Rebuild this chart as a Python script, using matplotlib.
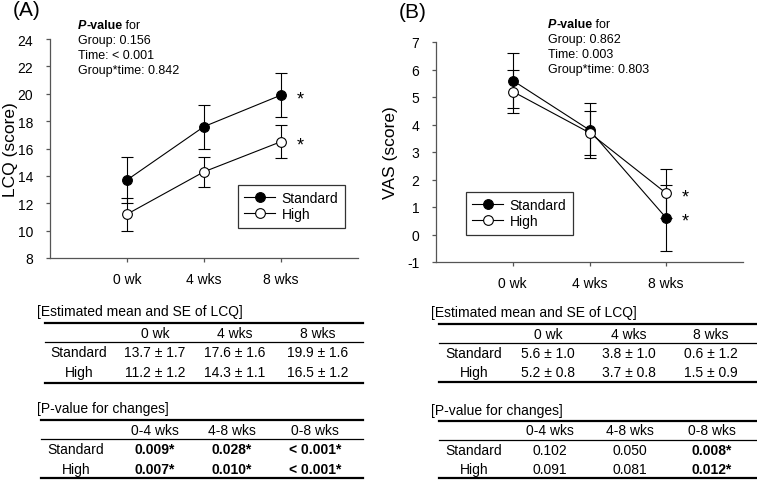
import matplotlib
matplotlib.use("Agg")
import matplotlib.pyplot as plt
from matplotlib.lines import Line2D

plt.rcParams["font.family"] = ["Liberation Sans", "DejaVu Sans"]
plt.rcParams["axes.unicode_minus"] = False

W, H = 757, 481

weeks = ["0 wk", "4 wks", "8 wks"]
changes = ["0-4 wks", "4-8 wks", "0-8 wks"]
groups = ["Standard", "High"]

# LCQ (panel A)
lcq_std = [13.7, 17.6, 19.9]
lcq_std_se = [1.7, 1.6, 1.6]
lcq_high = [11.2, 14.3, 16.5]
lcq_high_se = [1.2, 1.1, 1.2]
lcq_p_std = ["0.009*", "0.028*", "< 0.001*"]
lcq_p_high = ["0.007*", "0.010*", "< 0.001*"]
lcq_overall = ["0.156", "< 0.001", "0.842"]

# VAS (panel B)
vas_std = [5.6, 3.8, 0.6]
vas_std_se = [1.0, 1.0, 1.2]
vas_high = [5.2, 3.7, 1.5]
vas_high_se = [0.8, 0.8, 0.9]
vas_p_std = ["0.102", "0.050", "0.008*"]
vas_p_high = ["0.091", "0.081", "0.012*"]
vas_overall = ["0.862", "0.003", "0.803"]

SPINE = "#555555"


def fx(px):
    return px / W


def fy(py):
    return 1 - py / H


def hline(fig, x0, x1, y, lw):
    fig.add_artist(Line2D([fx(x0), fx(x1)], [fy(y), fy(y)], lw=lw, color="black",
                          transform=fig.transFigure))


def make_axes(fig, left, right, top, bottom):
    ax = fig.add_axes([fx(left), fy(bottom), (right - left) / W, (bottom - top) / H])
    for s in ["top", "right"]:
        ax.spines[s].set_visible(False)
    for s in ["left", "bottom"]:
        ax.spines[s].set_color(SPINE)
        ax.spines[s].set_linewidth(0.9)
    ax.tick_params(axis="both", colors=SPINE, labelcolor="black", length=3, width=0.9,
                   labelsize=10)
    ax.tick_params(axis="y", pad=9)
    ax.tick_params(axis="x", pad=7)
    return ax


def plot_panel(ax, std, std_se, high, high_se, labels_star):
    x = list(range(len(weeks)))
    ax.errorbar(x, std, yerr=std_se, color="black", lw=0.8, elinewidth=0.8,
                capsize=4.5, capthick=0.8, marker="o", ms=7, mfc="black",
                mec="black", mew=0.8, zorder=3)
    ax.errorbar(x, high, yerr=high_se, color="black", lw=0.8, elinewidth=0.8,
                capsize=4.5, capthick=0.8, marker="o", ms=7, mfc="white",
                mec="black", mew=0.8, zorder=3)
    for y in labels_star:
        ax.annotate("*", xy=(x[-1], y), xytext=(14, -2.5), textcoords="offset points",
                    ha="center", va="center", fontsize=13)
    ax.set_xlim(-1, 3)
    ax.set_xticks(x)
    ax.set_xticklabels(weeks)


def add_legend(ax, fig, left, top):
    handles = [
        Line2D([], [], color="black", lw=0.8, marker="o", ms=7, mfc="black", mec="black", mew=0.8),
        Line2D([], [], color="black", lw=0.8, marker="o", ms=7, mfc="white", mec="black", mew=0.8),
    ]
    leg = ax.legend(handles, groups, loc="upper left", bbox_to_anchor=(fx(left), fy(top)),
                    bbox_transform=fig.transFigure, borderaxespad=0, frameon=True,
                    fancybox=False, edgecolor="black", fontsize=10, handlelength=2.2,
                    handletextpad=0.5, labelspacing=0.15, borderpad=0.45, numpoints=1)
    leg.get_frame().set_linewidth(0.9)


def pvalue_block(fig, ax, left, top_y, overall):
    t = fig.text(fx(left), fy(top_y), "P", fontsize=9, fontweight="bold",
                 fontstyle="italic", va="center")
    a = ax.annotate("-value", xy=(1, 0), xycoords=t, va="bottom", ha="left",
                    fontsize=9, fontweight="bold", annotation_clip=False)
    ax.annotate(" for", xy=(1, 0), xycoords=a, va="bottom", ha="left",
                fontsize=9, annotation_clip=False)
    names = ["Group", "Time", "Group*time"]
    for i, (n, v) in enumerate(zip(names, overall)):
        fig.text(fx(left), fy(top_y + 15 * (i + 1)), f"{n}: {v}", fontsize=9, va="center")


def table(fig, title, title_x, title_y, x0, x1, rules, header_y, rows_y, label_x, col_x,
          header, rows):
    fig.text(fx(title_x), fy(title_y), title, fontsize=10, va="center")
    hline(fig, x0, x1, rules[0], 1.6)
    hline(fig, x0, x1, rules[1], 0.9)
    hline(fig, x0, x1, rules[2], 1.6)
    for cx, h in zip(col_x, header):
        fig.text(fx(cx), fy(header_y), h, fontsize=10, ha="center", va="center")
    for ry, (name, cells) in zip(rows_y, rows):
        fig.text(fx(label_x), fy(ry), name, fontsize=10, ha="center", va="center")
        for cx, c in zip(col_x, cells):
            fig.text(fx(cx), fy(ry), c, fontsize=10, ha="center", va="center",
                     fontweight="bold" if c.endswith("*") else "normal")


def est_cells(m, s):
    return [f"{a:.1f} \u00b1 {b:.1f}" for a, b in zip(m, s)]


fig = plt.figure(figsize=(W / 100, H / 100), dpi=100)

# ---- panel A
axA = make_axes(fig, 50, 358, 40, 259)
plot_panel(axA, lcq_std, lcq_std_se, lcq_high, lcq_high_se, [lcq_std[-1], lcq_high[-1]])
axA.set_ylim(8, 24)
axA.set_yticks(range(8, 25, 2))
axA.set_ylabel("LCQ (score)", fontsize=12.5, va="center")
axA.yaxis.set_label_coords(-0.127, 0.5)
add_legend(axA, fig, 238, 186)

# ---- panel B
axB = make_axes(fig, 436, 743, 43, 263)
plot_panel(axB, vas_std, vas_std_se, vas_high, vas_high_se, [vas_std[-1], vas_high[-1]])
axB.set_ylim(-1, 7)
axB.set_yticks(range(-1, 8))
axB.set_ylabel("VAS (score)", fontsize=12.5, va="center")
axB.yaxis.set_label_coords(-0.147, 0.5)
add_legend(axB, fig, 466, 193)

fig.text(fx(13), fy(11), "(A)", fontsize=15, va="center")
fig.text(fx(399), fy(13), "(B)", fontsize=15, va="center")

pvalue_block(fig, axA, 78, 26, lcq_overall)
pvalue_block(fig, axB, 548, 25, vas_overall)

# ---- tables A
table(fig, "[Estimated mean and SE of LCQ]", 37, 312, 45, 363, [324, 343, 384], 334,
      [353, 373], 79, [155, 235, 318], weeks,
      [(groups[0], est_cells(lcq_std, lcq_std_se)), (groups[1], est_cells(lcq_high, lcq_high_se))])
table(fig, "[P-value for changes]", 37, 409, 41, 363, [421, 440, 479], 431,
      [450, 470], 76, [155, 232, 315], changes,
      [(groups[0], lcq_p_std), (groups[1], lcq_p_high)])

# ---- tables B
table(fig, "[Estimated mean and SE of LCQ]", 431, 313, 439, 757, [325, 344, 383], 335,
      [354, 373], 474, [548, 629, 711], weeks,
      [(groups[0], est_cells(vas_std, vas_std_se)), (groups[1], est_cells(vas_high, vas_high_se))])
table(fig, "[P-value for changes]", 431, 411, 439, 757, [422, 441, 479], 431,
      [451, 470], 474, [550, 630, 712], changes,
      [(groups[0], vas_p_std), (groups[1], vas_p_high)])

fig.savefig("out.png", dpi=100)
